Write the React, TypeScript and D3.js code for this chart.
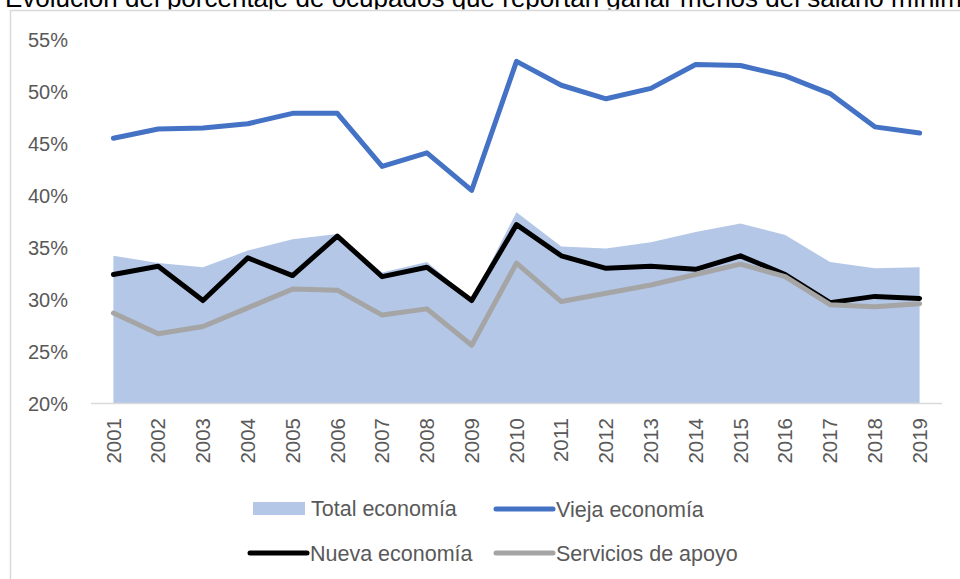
import React, { useEffect, useRef } from 'react'
import * as d3 from 'd3'

const years = ['2001', '2002', '2003', '2004', '2005', '2006', '2007', '2008', '2009', '2010',
  '2011', '2012', '2013', '2014', '2015', '2016', '2017', '2018', '2019']

// porcentaje de ocupados
const total = [34.2, 33.5, 33.1, 34.7, 35.8, 36.3, 32.6, 33.6, 30.0, 38.4, 35.1, 34.9, 35.5, 36.5, 37.3, 36.2, 33.6, 33.0, 33.1]
const vieja = [45.5, 46.4, 46.5, 46.9, 47.9, 47.9, 42.8, 44.1, 40.5, 52.9, 50.6, 49.3, 50.3, 52.6, 52.5, 51.5, 49.8, 46.6, 46.0]
const nueva = [32.4, 33.2, 29.9, 34.0, 32.3, 36.1, 32.2, 33.1, 29.9, 37.2, 34.2, 33.0, 33.2, 32.9, 34.2, 32.4, 29.7, 30.3, 30.1]
const apoyo = [28.7, 26.7, 27.4, 29.2, 31.0, 30.9, 28.5, 29.1, 25.6, 33.5, 29.8, 30.6, 31.4, 32.4, 33.4, 32.2, 29.5, 29.3, 29.6]

const yTicks = [20, 25, 30, 35, 40, 45, 50, 55]

const title = 'Evolución del porcentaje de ocupados que reportan ganar menos del salario mínimo'

const W = 960
const H = 579
const font = '"Liberation Sans", Arial, sans-serif'
const textGray = '#595959'

export default function App() {
  const svgRef = useRef<SVGSVGElement>(null)

  useEffect(() => {
    const svg = d3.select(svgRef.current)
    svg.selectAll('*').remove()

    const x = d3.scaleBand().domain(years).range([91, 942])
    const cx = (d: string) => (x(d) as number) + x.bandwidth() / 2
    const y = d3.scaleLinear().domain([20, 55]).range([403.5, 39.5])

    // title (cut off at the top, as in the source) and frame
    svg.append('text')
      .attr('x', 5).attr('y', 7)
      .attr('font-family', font).attr('font-size', 26)
      .attr('fill', '#000')
      .text(title)

    svg.append('rect').attr('x', 0).attr('y', 9.5).attr('width', W).attr('height', H)
      .attr('fill', '#fff')
    svg.append('path')
      .attr('d', `M10.5,${H} V10.5 H${W}`)
      .attr('fill', 'none').attr('stroke', '#d9d9d9').attr('stroke-width', 1.5)

    // y axis labels
    svg.append('g')
      .selectAll('text')
      .data(yTicks)
      .join('text')
      .attr('x', 68)
      .attr('y', d => y(d))
      .attr('dy', '0.35em')
      .attr('text-anchor', 'end')
      .attr('font-family', font).attr('font-size', 20)
      .attr('fill', textGray)
      .text(d => d + '%')

    // area
    const area = d3.area<number>()
      .x((d, i) => cx(years[i]))
      .y0(y(20))
      .y1(d => y(d))
    svg.append('path').datum(total).attr('d', area).attr('fill', '#b4c7e7')

    // axis line
    svg.append('line')
      .attr('x1', 91).attr('x2', 942)
      .attr('y1', y(20)).attr('y2', y(20))
      .attr('stroke', '#d9d9d9').attr('stroke-width', 1.5)

    const line = d3.line<number>()
      .x((d, i) => cx(years[i]))
      .y(d => y(d))

    const series = [
      { data: vieja, color: '#4472c4' },
      { data: nueva, color: '#000000' },
      { data: apoyo, color: '#a5a5a5' },
    ]
    series.forEach(s => {
      svg.append('path').datum(s.data).attr('d', line)
        .attr('fill', 'none').attr('stroke', s.color)
        .attr('stroke-width', 5).attr('stroke-linejoin', 'round').attr('stroke-linecap', 'round')
    })

    // x labels, rotated
    svg.append('g')
      .selectAll('text')
      .data(years)
      .join('text')
      .attr('transform', d => `translate(${cx(d)},418) rotate(-90)`)
      .attr('dy', '0.35em')
      .attr('text-anchor', 'end')
      .attr('font-family', font).attr('font-size', 20.5)
      .attr('fill', textGray)
      .text(d => d)

    // legend
    const leg = svg.append('g').attr('font-family', font).attr('font-size', 21.5).attr('fill', textGray)
    leg.append('rect').attr('x', 253).attr('y', 502).attr('width', 52).attr('height', 13).attr('fill', '#b4c7e7')
    leg.append('text').attr('x', 311).attr('y', 508).attr('dy', '0.35em').text('Total economía')
    const legLines = [
      { x0: 496, x1: 553, yy: 509, color: '#4472c4', label: 'Vieja economía' },
      { x0: 250, x1: 307, yy: 553, color: '#000000', label: 'Nueva economía' },
      { x0: 496, x1: 553, yy: 553, color: '#a5a5a5', label: 'Servicios de apoyo' },
    ]
    legLines.forEach(l => {
      leg.append('line').attr('x1', l.x0).attr('x2', l.x1).attr('y1', l.yy).attr('y2', l.yy)
        .attr('stroke', l.color).attr('stroke-width', 5).attr('stroke-linecap', 'round')
      leg.append('text').attr('x', l.x1 + 3).attr('y', l.yy).attr('dy', '0.35em').text(l.label)
    })
  }, [])

  return (
    <svg ref={svgRef} width={W} height={H}
      style={{ position: 'absolute', left: 0, top: 0, display: 'block', background: '#fff' }} />
  )
}
